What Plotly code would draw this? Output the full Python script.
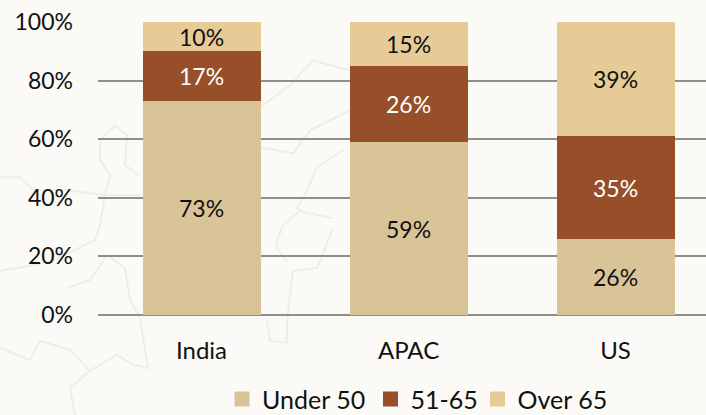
import plotly.graph_objects as go

categories = ["India", "APAC", "US"]
under_50 = [73, 59, 26]
age_51_65 = [17, 26, 35]
over_65 = [10, 15, 39]
y_ticks = [0, 20, 40, 60, 80, 100]

FONT = "Lato, Carlito, 'Open Sans', sans-serif"
INK = "#111111"
W, H = 706, 415
L, R, T, B = 98, 0, 21.5, 100

series = [
    ("Under 50", under_50, "#D9C497", INK, "legend", 222),
    ("51-65", age_51_65, "#964F29", "#ffffff", "legend2", 370.5),
    ("Over 65", over_65, "#E6CB97", INK, "legend3", 477.5),
]

fig = go.Figure()
legends = {}
for name, vals, col, tcol, leg, leg_x in series:
    fig.add_trace(go.Bar(
        name=name, x=categories, y=vals, showlegend=False,
        marker=dict(color=col, line=dict(width=0)),
        text=[f"{v}%" for v in vals], textposition="inside",
        insidetextanchor="middle", textangle=0, constraintext="none",
        textfont=dict(family=FONT, size=23, color=tcol),
        hoverinfo="skip",
    ))
    # legend key only: square swatch at the reference's size
    fig.add_trace(go.Scatter(
        name=name, x=[None], y=[None], mode="markers", legend=leg,
        marker=dict(color=col, size=15, symbol="square"), hoverinfo="skip",
    ))
    legends[leg] = dict(orientation="h", x=(leg_x - L) / (W - L - R), xref="paper",
                        y=(H - B - 399.5) / (H - T - B), yref="paper",
                        xanchor="left", yanchor="middle", font=dict(size=25),
                        bgcolor="rgba(0,0,0,0)", itemwidth=30)

# Faint decorative map outline behind the chart, traced in page pixels
map_outlines = [
    [(313, 60), (350, 70), (313, 60), (290, 85), (260, 107)],
    [(260, 147), (293, 153), (310, 130), (350, 110)],
    [(100, 140), (115, 125), (127, 135), (125, 165), (140, 175)],
    [(100, 140), (100, 160), (110, 175), (105, 195), (140, 195)],
    [(0, 177), (20, 177), (33, 190), (67, 190), (105, 195)],
    [(343, 150), (317, 167), (307, 190), (297, 208), (300, 211), (333, 218)],
    [(0, 271), (50, 262), (95, 240), (100, 225), (103, 208), (105, 195)],
    [(67, 288), (90, 280), (107, 255), (125, 268), (130, 300), (140, 318), (148, 368),
     (133, 365), (117, 355), (90, 371), (70, 388), (75, 415)],
    [(0, 348), (30, 360), (40, 341), (70, 350), (90, 371)],
    [(267, 321), (270, 341), (287, 343), (287, 321), (293, 271), (317, 268), (333, 228)],
    [(277, 241), (283, 225), (300, 211)],
    [(287, 261), (277, 248), (277, 241)],
]
shapes = []
for pts in map_outlines:
    d = "M" + " L".join(
        f"{(x - L) / (W - L - R):.4f},{(H - B - y) / (H - T - B):.4f}" for x, y in pts)
    shapes.append(dict(type="path", path=d, xref="paper", yref="paper", layer="below",
                       line=dict(color="#EFEDE7", width=2)))

fig.update_layout(
    barmode="stack", bargap=0.43,
    width=W, height=H,
    margin=dict(l=L, r=R, t=T, b=B, autoexpand=False),
    paper_bgcolor="#FBFAF6", plot_bgcolor="rgba(0,0,0,0)",
    font=dict(family=FONT, size=23, color=INK),
    shapes=shapes,
    xaxis=dict(range=[-0.5, 2.437], showgrid=False, showline=False, ticks="",
               ticklabelstandoff=19, zeroline=False, tickfont=dict(size=24)),
    yaxis=dict(range=[0, 100], tickvals=y_ticks, ticktext=[f"{v}%" for v in y_ticks],
               gridcolor="#8E8E8E", gridwidth=1.5, zeroline=True, zerolinecolor="#8E8E8E",
               zerolinewidth=1.5, showline=False, ticks="", ticklabelstandoff=24),
    **legends,
)

fig.write_html("out.html", config={"displayModeBar": False},
               post_script="document.body.style.margin='0';")
